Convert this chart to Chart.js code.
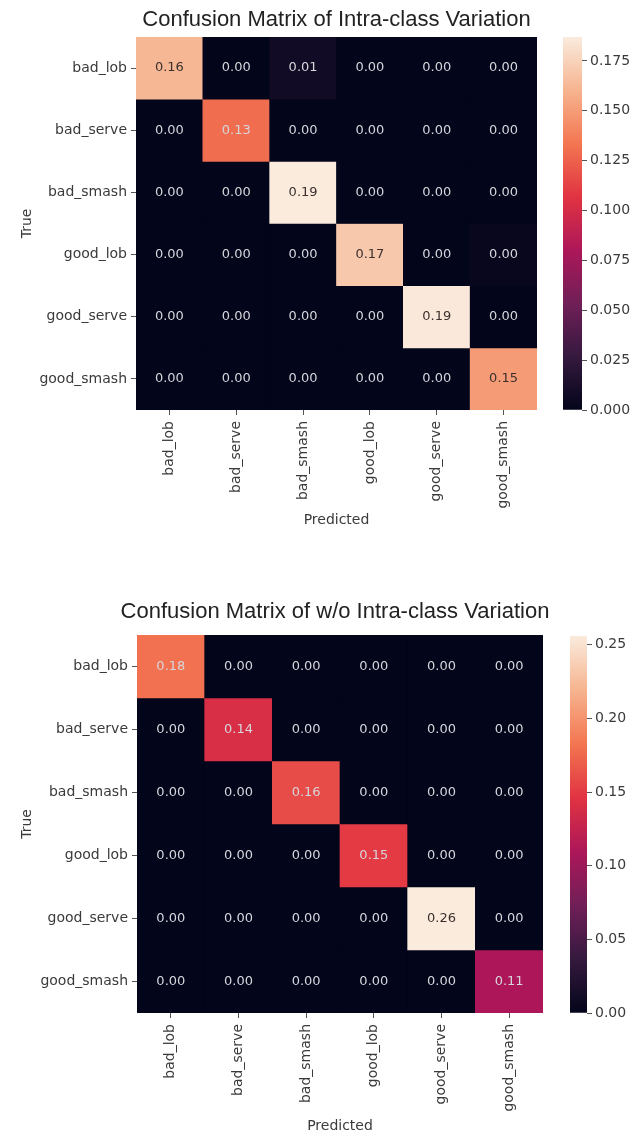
<!DOCTYPE html>
<html>
<head>
<meta charset="utf-8">
<title>Confusion matrices</title>
<script src="https://cdn.jsdelivr.net/npm/chart.js@4.4.1/dist/chart.umd.min.js"></script>
<style>
  body { margin: 0; background: #fff; }
  #wrap { position: relative; width: 631px; height: 1133px; }
  canvas { position: absolute; }
</style>
</head>
<body>
<div id="wrap">
  <canvas id="cmIntra" width="631" height="545" style="left:0;top:0"></canvas>
  <canvas id="cbIntra" width="76" height="545" style="left:555px;top:0"></canvas>
  <canvas id="cmPlain" width="631" height="539" style="left:0;top:594px"></canvas>
  <canvas id="cbPlain" width="71" height="539" style="left:560px;top:594px"></canvas>
</div>
<script>
const classes = ['bad_lob', 'bad_serve', 'bad_smash', 'good_lob', 'good_serve', 'good_smash'];

// normalised confusion matrix with intra-class variation (rows = true class)
const intraRows = [
  [0.162, 0.000, 0.008, 0.000, 0.000, 0.000],
  [0.000, 0.130, 0.000, 0.000, 0.000, 0.000],
  [0.000, 0.000, 0.187, 0.000, 0.000, 0.000],
  [0.000, 0.000, 0.000, 0.170, 0.000, 0.003],
  [0.000, 0.000, 0.000, 0.000, 0.186, 0.000],
  [0.000, 0.000, 0.000, 0.000, 0.000, 0.150]
];

// same model without intra-class variation
const plainRows = [
  [0.180, 0.000, 0.000, 0.000, 0.000, 0.000],
  [0.000, 0.140, 0.000, 0.000, 0.000, 0.000],
  [0.000, 0.000, 0.160, 0.000, 0.000, 0.000],
  [0.000, 0.000, 0.000, 0.150, 0.000, 0.000],
  [0.000, 0.000, 0.000, 0.000, 0.256, 0.000],
  [0.000, 0.000, 0.000, 0.000, 0.000, 0.110]
];

// colorbar ticks
const intraTicks = [0, 0.025, 0.05, 0.075, 0.1, 0.125, 0.15, 0.175];
const plainTicks = [0, 0.05, 0.1, 0.15, 0.2, 0.25];

// seaborn "rocket" colormap, sampled
const rocket = [
  [0.000, [3, 5, 26]],
  [0.143, [53, 25, 62]],
  [0.286, [112, 31, 87]],
  [0.429, [173, 23, 89]],
  [0.571, [225, 51, 66]],
  [0.714, [243, 118, 81]],
  [0.857, [246, 180, 143]],
  [1.000, [250, 235, 221]]
];

function rocketAt(t) {
  t = Math.max(0, Math.min(1, t));
  for (let i = 1; i < rocket.length; i++) {
    if (t <= rocket[i][0]) {
      const [t0, c0] = rocket[i - 1];
      const [t1, c1] = rocket[i];
      const f = (t - t0) / (t1 - t0);
      return c0.map((c, k) => Math.round(c + (c1[k] - c) * f));
    }
  }
  return rocket[rocket.length - 1][1];
}

const rgb = c => `rgb(${c[0]}, ${c[1]}, ${c[2]})`;

// dark text on light cells, light text on dark ones
function textColor(c) {
  const lin = c.map(v => {
    v /= 255;
    return v <= 0.03928 ? v / 12.92 : Math.pow((v + 0.055) / 1.055, 2.4);
  });
  const lum = 0.2126 * lin[0] + 0.7152 * lin[1] + 0.0722 * lin[2];
  return lum > 0.408 ? '#3b302e' : '#d6d6dc';
}

const tickFont = { family: 'DejaVu Sans', size: 14 };
const labelColor = '#3a3a3a';

// fills the plot area with the lowest colour so cell seams disappear
const cellBackground = {
  id: 'cellBackground',
  beforeDatasetsDraw(chart) {
    const { ctx, chartArea } = chart;
    ctx.save();
    ctx.fillStyle = rgb(rocket[0][1]);
    ctx.fillRect(chartArea.left, chartArea.top, chartArea.width, chartArea.height);
    ctx.restore();
  }
};

// writes the value inside every cell
const cellLabels = {
  id: 'cellLabels',
  afterDatasetsDraw(chart) {
    const { ctx } = chart;
    ctx.save();
    ctx.font = '13px "DejaVu Sans"';
    ctx.textAlign = 'center';
    ctx.textBaseline = 'middle';
    chart.data.datasets.forEach((ds, i) => {
      chart.getDatasetMeta(i).data.forEach((bar, j) => {
        const p = bar.getCenterPoint();
        ctx.fillStyle = ds.textColors[j];
        ctx.fillText(ds.values[j].toFixed(2), p.x, p.y);
      });
    });
    ctx.restore();
  }
};

// title centred over the matrix rather than the canvas
const matrixTitle = {
  id: 'matrixTitle',
  afterDraw(chart, args, opts) {
    const { ctx, chartArea } = chart;
    ctx.save();
    ctx.font = '22px "Liberation Sans", Arial, sans-serif';
    ctx.fillStyle = '#222';
    ctx.textAlign = 'center';
    ctx.textBaseline = 'middle';
    ctx.fillText(opts.text, (chartArea.left + chartArea.right) / 2 + (opts.dx || 0), opts.y);
    ctx.restore();
  }
};

function drawMatrix(id, title, rows, vmax, box) {
  const datasets = rows.map((row, r) => {
    const colors = row.map(v => rocketAt(v / vmax));
    return {
      data: row.map(() => [r, r + 1]),
      values: row,
      backgroundColor: colors.map(rgb),
      textColors: colors.map(textColor),
      borderWidth: 0,
      grouped: false,
      barPercentage: 1,
      categoryPercentage: 1
    };
  });

  new Chart(document.getElementById(id), {
    type: 'bar',
    data: { labels: classes, datasets },
    options: {
      responsive: false,
      animation: false,
      events: [],
      layout: { padding: { top: box.top, right: box.right, left: 0, bottom: 0 } },
      plugins: {
        legend: { display: false },
        tooltip: { enabled: false },
        matrixTitle: { text: title, y: box.titleY, dx: box.titleDx }
      },
      scales: {
        x: {
          ticks: { minRotation: 90, maxRotation: 90, autoSkip: false, color: labelColor, font: tickFont, padding: 6 },
          grid: { offset: false, drawOnChartArea: false, tickLength: 5, color: '#555' },
          border: { display: false },
          title: { display: true, text: 'Predicted', color: labelColor, font: { family: 'DejaVu Sans', size: 14, lineHeight: 1 }, padding: { bottom: box.xTitlePad, top: 0 } },
          afterFit: s => { s.height = box.xHeight; }
        },
        y: {
          min: 0,
          max: 6,
          reverse: true,
          afterBuildTicks: s => { s.ticks = classes.map((c, i) => ({ value: i + 0.5 })); },
          ticks: { callback: v => classes[Math.floor(v)], color: labelColor, font: tickFont, padding: 4 },
          grid: { drawOnChartArea: false, tickLength: 5, color: '#555' },
          border: { display: false },
          title: { display: true, text: 'True', color: labelColor, font: { family: 'DejaVu Sans', size: 14, lineHeight: 1 }, padding: { top: 20, bottom: 0 } },
          afterFit: s => { s.width = box.yWidth; }
        }
      }
    },
    plugins: [cellBackground, cellLabels, matrixTitle]
  });
}

function drawColorbar(id, vmax, ticks, digits, box) {
  new Chart(document.getElementById(id), {
    type: 'bar',
    data: {
      labels: [''],
      datasets: [{
        data: [vmax],
        borderWidth: 0,
        barPercentage: 1,
        categoryPercentage: 1,
        backgroundColor: ctx => {
          const area = ctx.chart.chartArea;
          if (!area) return rgb(rocket[0][1]);
          const g = ctx.chart.ctx.createLinearGradient(0, area.bottom, 0, area.top);
          rocket.forEach(([t, c]) => g.addColorStop(t, rgb(c)));
          return g;
        }
      }]
    },
    options: {
      responsive: false,
      animation: false,
      events: [],
      layout: { padding: { top: box.top, bottom: box.bottom, left: box.left, right: 0 } },
      plugins: { legend: { display: false }, tooltip: { enabled: false } },
      scales: {
        x: { display: false },
        y: {
          position: 'right',
          min: 0,
          max: vmax,
          afterBuildTicks: s => { s.ticks = ticks.map(v => ({ value: v })); },
          ticks: { callback: v => v.toFixed(digits), color: labelColor, font: tickFont, padding: 3 },
          grid: { drawOnChartArea: false, tickLength: 5, color: '#555' },
          border: { display: false },
          afterFit: s => { s.width = box.yWidth; }
        }
      }
    }
  });
}

const intraMax = Math.max(...intraRows.flat());
const plainMax = Math.max(...plainRows.flat());

drawMatrix('cmIntra', 'Confusion Matrix of Intra-class Variation', intraRows, intraMax,
  { top: 37, right: 94, yWidth: 136, xHeight: 135, xTitlePad: 18, titleY: 20, titleDx: 0 });
drawColorbar('cbIntra', intraMax, intraTicks, 3, { top: 37, bottom: 135, left: 8, yWidth: 49 });

drawMatrix('cmPlain', 'Confusion Matrix of w/o Intra-class Variation', plainRows, plainMax,
  { top: 41, right: 88, yWidth: 137, xHeight: 120, xTitlePad: 0, titleY: 18, titleDx: -5 });
drawColorbar('cbPlain', plainMax, plainTicks, 2, { top: 42, bottom: 120, left: 10, yWidth: 44 });
</script>
</body>
</html>
